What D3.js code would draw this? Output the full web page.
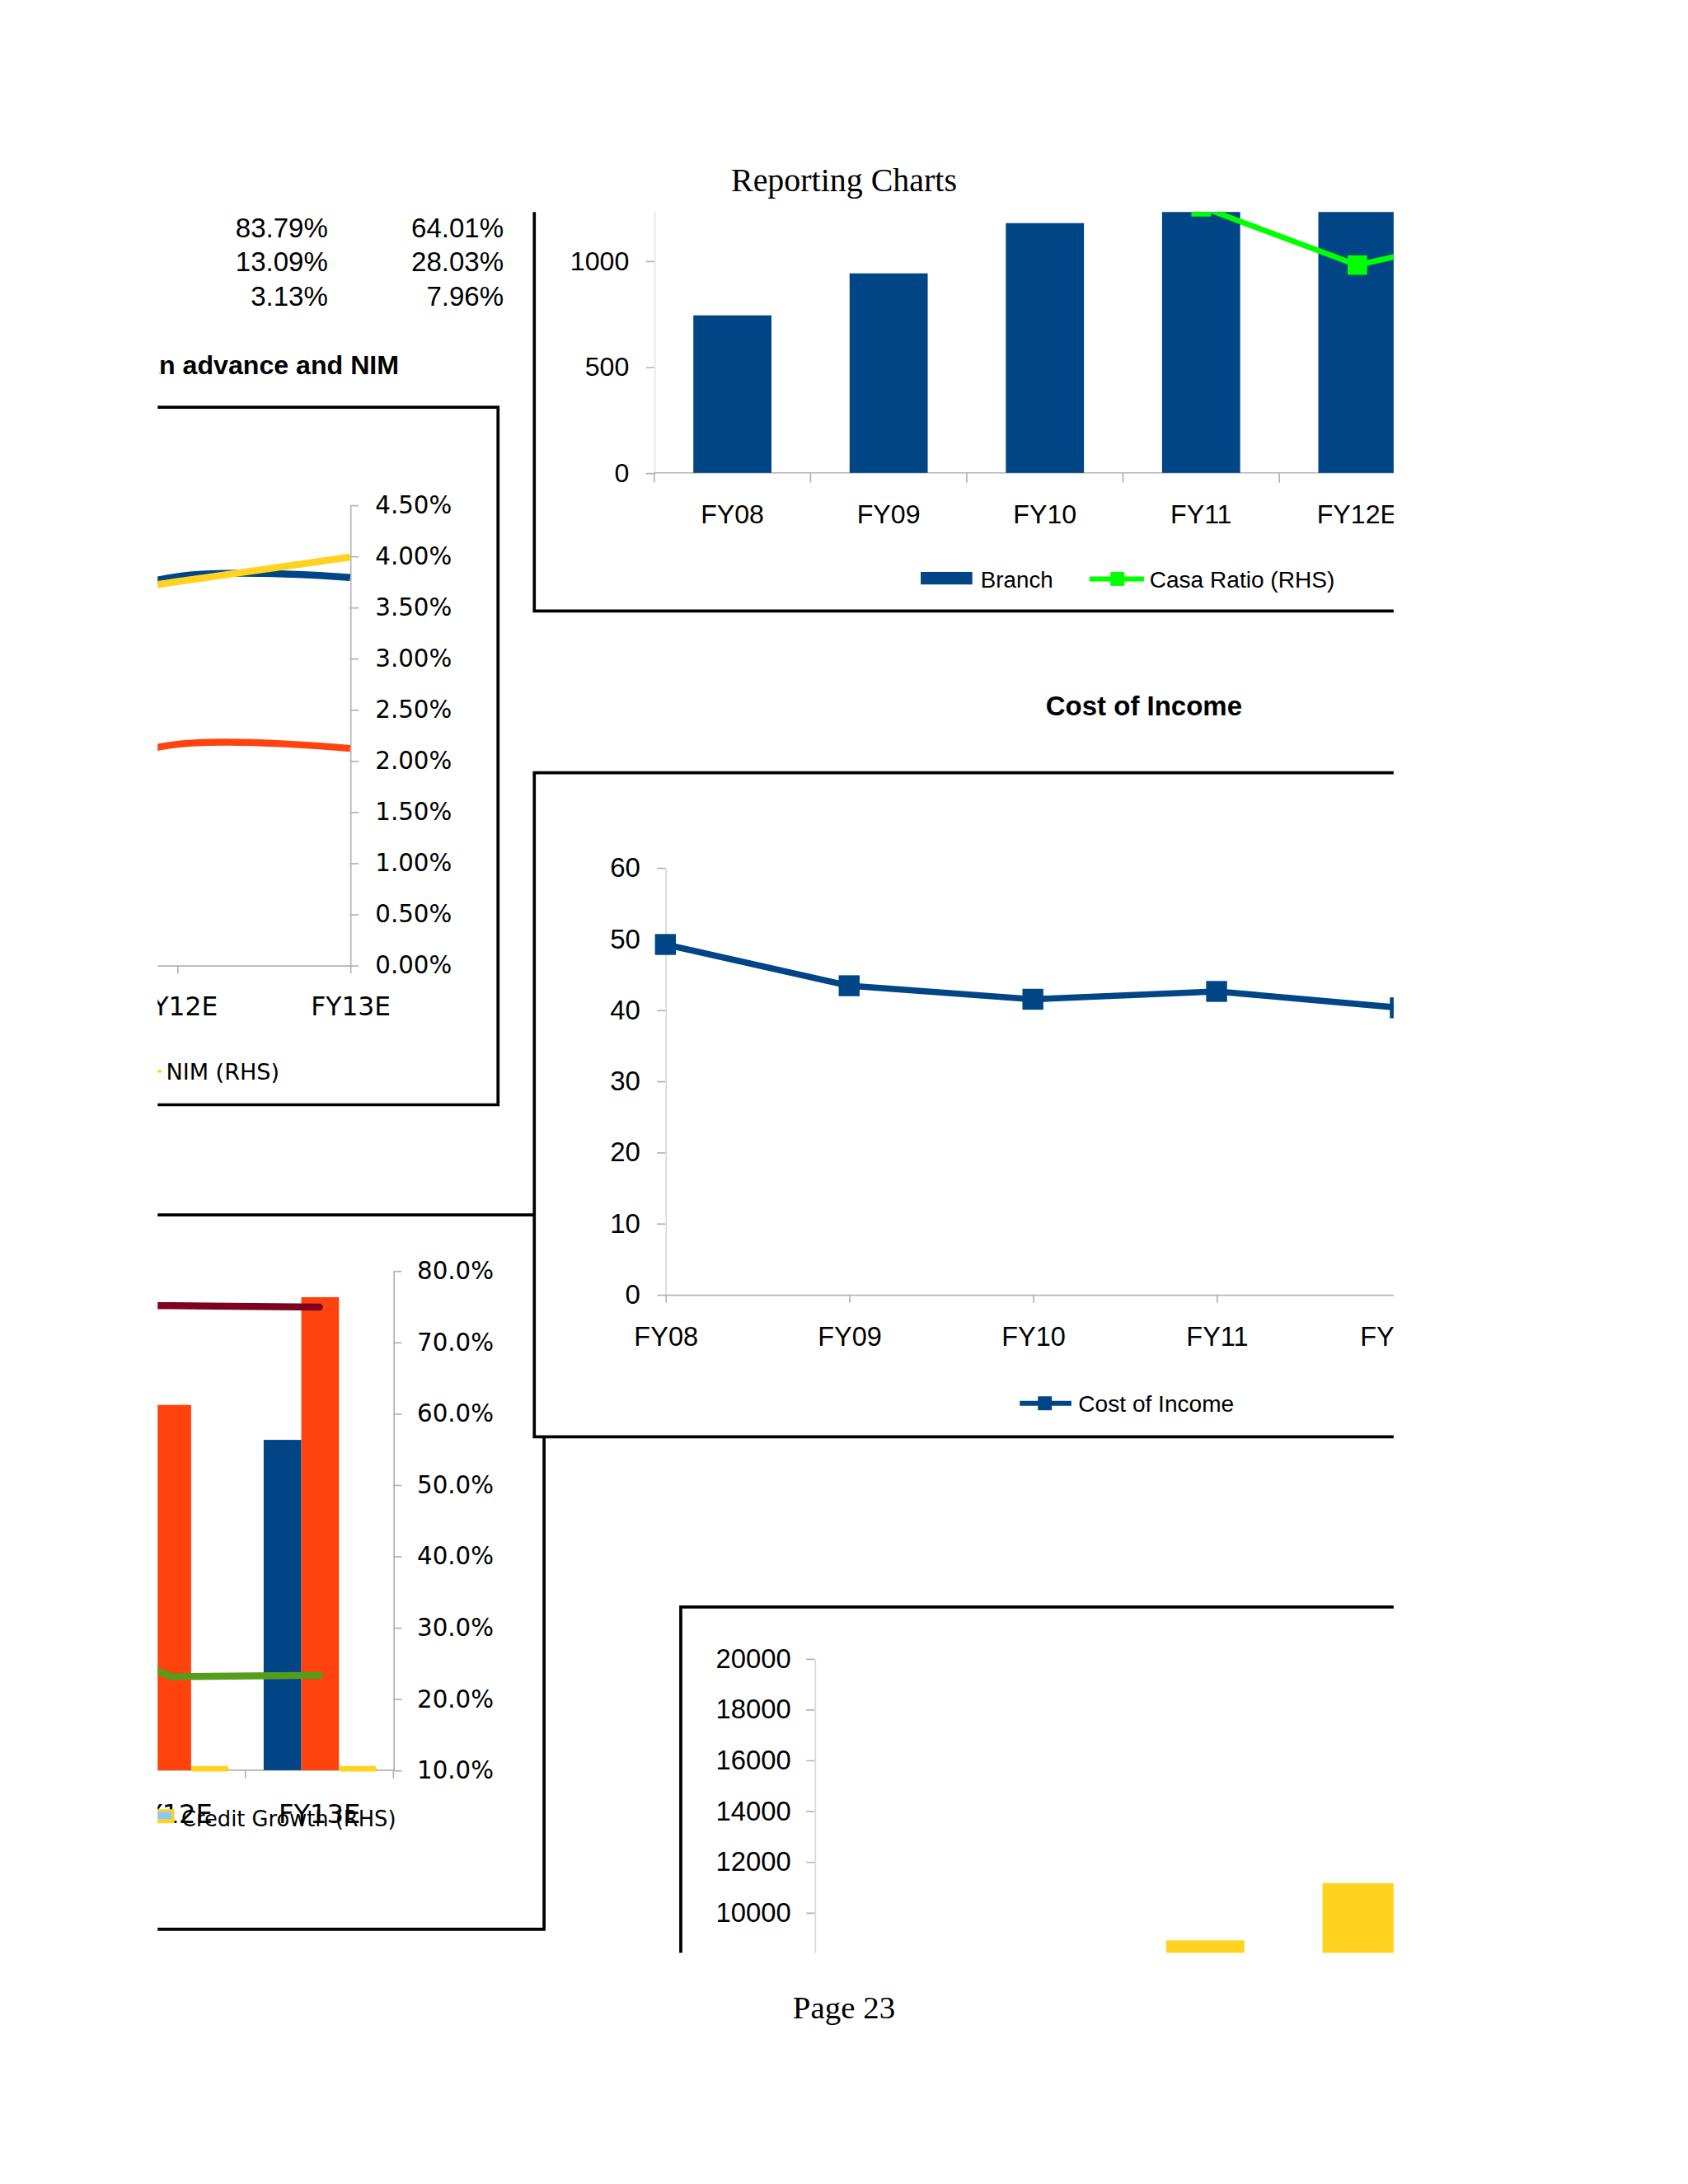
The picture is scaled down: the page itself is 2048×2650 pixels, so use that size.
<!DOCTYPE html>
<html><head><meta charset="utf-8">
<script src="https://cdn.jsdelivr.net/npm/d3@7"></script>
<style>html,body{margin:0;padding:0;background:#fff}svg{display:block}</style>
</head><body>
<svg id="page" width="2048" height="2650"></svg>
<script>
// ---------------- DATA ----------------
const shareColA = ["83.79%", "13.09%", "3.13%"];
const shareColB = ["64.01%", "28.03%", "7.96%"];

// Loan advance and NIM chart (right axis, %)
const nimCats = ["FY11", "FY12E", "FY13E"];
const nimYield = [3.30, 3.80, 3.79];     // blue
const nimCost = [1.72, 2.16, 2.12];      // orange-red
const nimNim = [3.51, 3.75, 3.99];       // yellow, NIM (RHS)
const nimTicks = [0, 0.5, 1, 1.5, 2, 2.5, 3, 3.5, 4, 4.5];

// Credit growth chart (%)
const creditCats = ["FY11", "FY12E", "FY13E"];
const creditBlue = [48.0, 50.0, 56.3];
const creditOrange = [55.0, 61.2, 76.3];
const creditYellow = [10.6, 10.6, 10.6];
const creditMaroon = [75.3, 75.1, 74.9];
const creditGreen = [32.0, 23.1, 23.3];
const creditTicks = [10, 20, 30, 40, 50, 60, 70, 80];

// Branch / Casa ratio chart
const branchCats = ["FY08", "FY09", "FY10", "FY11", "FY12E", "FY13E"];
const branchValues = [743, 941, 1178, 1400, 1500, 1650];
const casaRatio = [27.0, 27.5, 26.5, 25.1, 19.6, 22.9];
const branchTicks = [0, 500, 1000];

// Cost of Income chart
const costCats = ["FY08", "FY09", "FY10", "FY11", "FY12E"];
const costValues = [49.2, 43.4, 41.5, 42.6, 40.3];
const costTicks = [0, 10, 20, 30, 40, 50, 60];

// Bottom-right bar chart
const depCats = ["FY08", "FY09", "FY10", "FY11", "FY12E"];
const depValues = [5000, 7000, 8900, 11150, 13500];
const depTicks = [10000, 12000, 14000, 16000, 18000, 20000];

// ---------------- SETUP ----------------
const K = 2048 / 1210;
const SANS = "'Liberation Sans', Arial, sans-serif";
const DV = "'DejaVu Sans', Verdana, sans-serif";
const SERIF = "'Liberation Serif', 'Times New Roman', serif";
const C = {blue: "#004586", orange: "#ff420e", yellow: "#ffd320", green: "#579d1c",
           maroon: "#7e0021", light: "#83caff", casa: "#00ff00", axis: "#b3b3b3"};
const LEFT_EDGE = 113, RIGHT_EDGE = 999;

const svg = d3.select("#page");
const defs = svg.append("defs");
svg.append("rect").attr("width", 2048).attr("height", 2650).attr("fill", "#ffffff");
const root = svg.append("g").attr("transform", `scale(${K})`);

function clip(id, x, y, w, h) {
  defs.append("clipPath").attr("id", id).append("rect")
    .attr("x", x).attr("y", y).attr("width", w).attr("height", h);
  return `url(#${id})`;
}
function styleAxis(g, font, size) {
  g.select(".domain").attr("stroke", C.axis).attr("stroke-width", 1);
  g.selectAll(".tick line").attr("stroke", C.axis).attr("stroke-width", 1);
  g.selectAll(".tick text").attr("fill", "#000").style("font-family", font).style("font-size", size + "px");
}
function txt(g, x, y, s, opts = {}) {
  return g.append("text").attr("x", x).attr("y", y).attr("text-anchor", opts.anchor || "start")
    .style("font-family", opts.font || SANS).style("font-size", (opts.size || 17) + "px")
    .style("font-weight", opts.weight || "normal").attr("fill", "#000").text(s);
}

// ---------------- PAGE TEXT ----------------
txt(root, 605, 137, "Reporting Charts", {anchor: "middle", font: SERIF, size: 23.6});
txt(root, 605, 1447, "Page 23", {anchor: "middle", font: SERIF, size: 23});

shareColA.forEach((s, i) => txt(root, 235, 170 + i * 24.6, s, {anchor: "end", size: 19.5}));
shareColB.forEach((s, i) => txt(root, 361, 170 + i * 24.6, s, {anchor: "end", size: 19.5}));

const gT = root.append("g").attr("clip-path", clip("cLeft", LEFT_EDGE + 1, 0, 900, 2650));
txt(gT, 286, 268, "Loan advance and NIM", {anchor: "end", size: 19, weight: "bold"});

// ---------------- NIM CHART ----------------
{
  const g = root.append("g").attr("clip-path", clip("cNim", LEFT_EDGE, 280, 260, 530));
  g.append("path").attr("d", "M100,292 H357 V792 H100").attr("fill", "none").attr("stroke", "#000").attr("stroke-width", 2.2);
  const x = d3.scalePoint().domain(nimCats).range([3, 251]);
  const y = d3.scaleLinear().domain([0, 4.5]).range([692, 362]);
  const ay = g.append("g").attr("transform", "translate(251,0)")
    .call(d3.axisRight(y).tickValues(nimTicks).tickSize(6).tickSizeOuter(0).tickPadding(12).tickFormat(d => d.toFixed(2) + "%"));
  styleAxis(ay, DV, 17.3);
  const ax = g.append("g").attr("transform", "translate(0,692)")
    .call(d3.axisBottom(x).tickSize(6).tickSizeOuter(0).tickPadding(17));
  styleAxis(ax, DV, 18.5);
  ax.selectAll(".tick").filter(d => x(d) < LEFT_EDGE - 20).select("text").remove();
  const line = d3.line().x((d, i) => x(nimCats[i])).y(d => y(d)).curve(d3.curveCatmullRom);
  [[nimYield, C.blue], [nimCost, C.orange], [nimNim, C.yellow]].forEach(([v, col]) => {
    g.append("path").attr("d", line(v)).attr("fill", "none").attr("stroke", col).attr("stroke-width", 5);
  });
  g.append("line").attr("x1", 100).attr("x2", 116).attr("y1", 768).attr("y2", 768).attr("stroke", C.yellow).attr("stroke-width", 2);
  txt(g, 119, 774, "NIM (RHS)", {font: DV, size: 16});
}

// ---------------- CREDIT GROWTH CHART ----------------
{
  const g = root.append("g").attr("clip-path", clip("cCred", LEFT_EDGE, 860, 290, 540));
  g.append("rect").attr("x", 100).attr("y", 871).attr("width", 290).attr("height", 512).attr("fill", "#fff");
  g.append("path").attr("d", "M100,871 H390 V1383 H100").attr("fill", "none").attr("stroke", "#000").attr("stroke-width", 2.2);
  const x = d3.scaleBand().domain(creditCats).range([-36, 282]);
  const inner = d3.scaleBand().domain(["b", "o", "y"]).range([13, 94]);
  const y = d3.scaleLinear().domain([10, 80]).range([1269, 911]);
  const ay = g.append("g").attr("transform", "translate(282,0)")
    .call(d3.axisRight(y).tickValues(creditTicks).tickSize(6).tickSizeOuter(0).tickPadding(11).tickFormat(d => d.toFixed(1) + "%"));
  styleAxis(ay, DV, 17.3);
  // x axis line and boundary ticks
  g.append("line").attr("x1", x.range()[0]).attr("x2", x.range()[1]).attr("y1", y(10)).attr("y2", y(10)).attr("stroke", C.axis);
  creditCats.forEach(c => {
    g.append("line").attr("x1", x(c) + x.bandwidth()).attr("x2", x(c) + x.bandwidth())
      .attr("y1", y(10)).attr("y2", y(10) + 6).attr("stroke", C.axis);
  });
  [[creditBlue, "b", C.blue], [creditOrange, "o", C.orange]].forEach(([v, k, col]) => {
    g.selectAll(null).data(v).enter().append("rect")
      .attr("x", (d, i) => x(creditCats[i]) + inner(k)).attr("width", inner.bandwidth())
      .attr("y", d => y(d)).attr("height", d => y(10) - y(d)).attr("fill", col);
  });
  g.selectAll(null).data(creditYellow).enter().append("rect")
    .attr("x", (d, i) => x(creditCats[i]) + inner("y")).attr("width", inner.bandwidth())
    .attr("y", d => y(d)).attr("height", d => y(10) - y(d) + 1).attr("rx", 2).attr("fill", C.yellow);
  const line = d3.line().x((d, i) => x(creditCats[i]) + x.bandwidth() / 2).y(d => y(d));
  g.append("path").attr("d", line(creditMaroon)).attr("fill", "none").attr("stroke", C.maroon)
    .attr("stroke-width", 5).attr("stroke-linecap", "round");
  g.append("path").attr("d", line(creditGreen)).attr("fill", "none").attr("stroke", C.green)
    .attr("stroke-width", 5).attr("stroke-linecap", "round");
  // x labels (only categories that reach the visible area)
  creditCats.filter(c => x(c) + x.bandwidth() / 2 > LEFT_EDGE - 20)
    .forEach(c => txt(g, x(c) + x.bandwidth() / 2, 1307, c, {anchor: "middle", font: DV, size: 19}));
  // legend
  g.append("rect").attr("x", 110).attr("y", 1297).attr("width", 15).attr("height", 10).attr("fill", C.yellow);
  g.append("rect").attr("x", 110).attr("y", 1299).attr("width", 13).attr("height", 5).attr("fill", C.light);
  txt(g, 130, 1309, "Credit Growth (RHS)", {font: DV, size: 15.2});
}

// ---------------- BRANCH / CASA CHART ----------------
{
  const g = root.append("g").attr("clip-path", clip("cBr", 370, 152, RIGHT_EDGE - 370, 300));
  g.append("path").attr("d", "M383,140 V438 H1010").attr("fill", "none").attr("stroke", "#000").attr("stroke-width", 2.2);
  const x = d3.scaleBand().domain(branchCats).range([469, 469 + 112 * branchCats.length]);
  const y = d3.scaleLinear().domain([0, 1500]).range([339, 111]);
  const yR = d3.scaleLinear().domain([0, 30]).range([339, 111]);
  const ay = g.append("g").attr("transform", "translate(469,0)")
    .call(d3.axisLeft(y).tickValues(branchTicks).tickSize(6).tickSizeOuter(0).tickPadding(12).tickFormat(d3.format("d")));
  styleAxis(ay, SANS, 19);
  ay.select(".domain").attr("stroke", "#e6e6e6");
  g.append("line").attr("x1", 469).attr("x2", 1010).attr("y1", 339).attr("y2", 339).attr("stroke", C.axis);
  branchCats.forEach(c => {
    g.append("line").attr("x1", x(c)).attr("x2", x(c)).attr("y1", 339).attr("y2", 346).attr("stroke", C.axis);
  });
  g.selectAll(null).data(branchValues).enter().append("rect")
    .attr("x", (d, i) => x(branchCats[i]) + x.bandwidth() / 4).attr("width", x.bandwidth() / 2)
    .attr("y", d => y(d)).attr("height", d => 339 - y(d)).attr("fill", C.blue);
  branchCats.filter(c => x(c) < RIGHT_EDGE)
    .forEach(c => txt(g, x(c) + x.bandwidth() / 2, 375, c, {anchor: "middle", size: 19}));
  const line = d3.line().x((d, i) => x(branchCats[i]) + x.bandwidth() / 2).y(d => yR(d));
  g.append("path").attr("d", line(casaRatio)).attr("fill", "none").attr("stroke", C.casa).attr("stroke-width", 4);
  g.selectAll(null).data(casaRatio).enter().append("rect")
    .attr("x", (d, i) => x(branchCats[i]) + x.bandwidth() / 2 - 7).attr("y", d => yR(d) - 7)
    .attr("width", 14).attr("height", 14).attr("fill", C.casa);
  // legend
  g.append("rect").attr("x", 660).attr("y", 410).attr("width", 37).attr("height", 9).attr("fill", C.blue);
  txt(g, 703, 421, "Branch", {size: 16.4});
  g.append("line").attr("x1", 781).attr("x2", 820).attr("y1", 415).attr("y2", 415).attr("stroke", C.casa).attr("stroke-width", 3.5);
  g.append("rect").attr("x", 796).attr("y", 410).attr("width", 10).attr("height", 10).attr("fill", C.casa);
  txt(g, 824, 421, "Casa Ratio (RHS)", {size: 16.6});
}

// ---------------- COST OF INCOME CHART ----------------
txt(root, 820, 513, "Cost of Income", {anchor: "middle", size: 19.5, weight: "bold"});
{
  const g = root.append("g").attr("clip-path", clip("cCost", 370, 540, RIGHT_EDGE - 370, 500));
  g.append("rect").attr("x", 383).attr("y", 554).attr("width", 640).attr("height", 476).attr("fill", "#fff");
  g.append("path").attr("d", "M1010,554 H383 V1030 H1010").attr("fill", "none").attr("stroke", "#000").attr("stroke-width", 2.2);
  const x = d3.scalePoint().domain(costCats).range([477, 477 + 131.7 * (costCats.length - 1)]);
  const y = d3.scaleLinear().domain([0, 60]).range([928, 622]);
  const ay = g.append("g").attr("transform", "translate(477,0)")
    .call(d3.axisLeft(y).tickValues(costTicks).tickSize(6).tickSizeOuter(0).tickPadding(12));
  styleAxis(ay, SANS, 19.5);
  ay.select(".domain").attr("stroke", "#d9d9d9");
  const ax = g.append("g").attr("transform", "translate(0,928)")
    .call(d3.axisBottom(x).tickSize(6).tickSizeOuter(0).tickPadding(17));
  styleAxis(ax, SANS, 19.2);
  ax.select(".domain").attr("d", "M477,0.5H1010");
  const line = d3.line().x((d, i) => x(costCats[i])).y(d => y(d));
  g.append("path").attr("d", line(costValues)).attr("fill", "none").attr("stroke", C.blue).attr("stroke-width", 4.5);
  g.selectAll(null).data(costValues).enter().append("rect")
    .attr("x", (d, i) => x(costCats[i]) - 7.5).attr("y", d => y(d) - 7.5)
    .attr("width", 15).attr("height", 15).attr("fill", C.blue);
  // legend
  g.append("line").attr("x1", 731).attr("x2", 768).attr("y1", 1006).attr("y2", 1006).attr("stroke", C.blue).attr("stroke-width", 3.5);
  g.append("rect").attr("x", 744).attr("y", 1001).attr("width", 10).attr("height", 10).attr("fill", C.blue);
  txt(g, 773, 1012, "Cost of Income", {size: 16.6});
}

// ---------------- BOTTOM-RIGHT BAR CHART ----------------
{
  const g = root.append("g").attr("clip-path", clip("cDep", 470, 1140, RIGHT_EDGE - 470, 260));
  g.append("path").attr("d", "M1010,1152 H488 V1420").attr("fill", "none").attr("stroke", "#000").attr("stroke-width", 2.2);
  const x = d3.scaleBand().domain(depCats).range([584, 584 + 112 * depCats.length]);
  const y = d3.scaleLinear().domain([0, 20000]).range([1553, 1189]);
  const ay = g.append("g").attr("transform", "translate(584,0)")
    .call(d3.axisLeft(y).tickValues(depTicks).tickSize(6).tickSizeOuter(0).tickPadding(11).tickFormat(d3.format("d")));
  styleAxis(ay, SANS, 19.4);
  ay.select(".domain").attr("stroke", "#d9d9d9");
  g.selectAll(null).data(depValues).enter().append("rect")
    .attr("x", (d, i) => x(depCats[i]) + x.bandwidth() / 4).attr("width", x.bandwidth() / 2)
    .attr("y", d => y(d)).attr("height", d => y(0) - y(d)).attr("fill", C.yellow);
}
</script>
</body></html>
